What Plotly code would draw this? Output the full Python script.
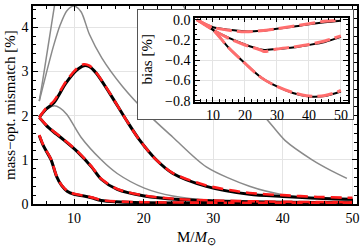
import plotly.graph_objects as go

# ---------------- main panel data ----------------
gray_a_x = [5, 5.5, 6, 6.5, 7, 7.5, 8, 10, 14, 18, 22, 26, 30, 33, 36, 37.4, 40.3, 44.2, 47, 49.2]
gray_a_y = [2.33, 2.8, 3.3, 3.8, 4.3, 4.8, 5.3, 6.2, 6.9, 6.6, 5.6, 4.4, 3.2, 2.6, 2.1, 1.96, 1.44, 1.0, 0.75, 0.58]

gray_b_x = [5, 6, 7, 8, 9, 10, 11, 12.2, 14, 16.9, 20.5, 24.2, 29, 35.2, 40.3, 45, 50]
gray_b_y = [2.33, 2.95, 3.55, 4.05, 4.38, 4.48, 4.35, 3.84, 3.3, 2.67, 2.05, 1.51, 0.84, 0.4, 0.2, 0.12, 0.08]

gray_c_x = [5, 6, 7.1, 8, 9, 11, 13.9, 16.2, 20.1, 24.2, 30, 40, 50]
gray_c_y = [1.96, 2.14, 2.22, 2.17, 2.02, 1.51, 1.0, 0.69, 0.36, 0.18, 0.08, 0.04, 0.03]

top_x = [5, 6, 7.1, 8.8, 10.3, 11.4, 12.2, 13.2, 15.1, 17.5, 19.4, 21.8, 24.2, 29, 35.2, 40, 45, 50]
top_black = [1.96, 2.15, 2.29, 2.73, 3.02, 3.13, 3.11, 2.96, 2.51, 1.9, 1.45, 1.0, 0.69, 0.4, 0.22, 0.17, 0.13, 0.11]
top_red = [1.96, 2.17, 2.33, 2.76, 3.05, 3.16, 3.13, 2.97, 2.52, 1.9, 1.45, 1.0, 0.7, 0.42, 0.25, 0.2, 0.16, 0.14]

mid_x = [5, 6, 7, 8.6, 10.5, 12.5, 13.9, 16.2, 20.1, 25, 30, 40, 50]
mid_black = [1.96, 1.78, 1.64, 1.44, 1.18, 0.84, 0.56, 0.33, 0.18, 0.1, 0.07, 0.04, 0.03]
mid_red = [1.96, 1.79, 1.65, 1.45, 1.19, 0.85, 0.57, 0.34, 0.19, 0.11, 0.08, 0.05, 0.04]

low_x = [5, 5.5, 6, 6.7, 7.5, 8.2, 9, 10, 11.4, 12.5, 13.9, 16, 20, 30, 40, 50]
low_black = [1.55, 1.35, 1.2, 1.0, 0.62, 0.42, 0.29, 0.22, 0.18, 0.14, 0.08, 0.05, 0.03, 0.02, 0.015, 0.01]
low_red = [1.56, 1.36, 1.21, 1.01, 0.63, 0.43, 0.3, 0.23, 0.19, 0.15, 0.09, 0.06, 0.04, 0.03, 0.03, 0.03]

main_xticks = [10, 20, 30, 40, 50]
main_yticks = [0, 1, 2, 3, 4]

# ---------------- inset data ----------------
inset_x = [5, 10, 15, 20, 25, 30, 35, 40, 45, 50]
bias1_black = [0.0, -0.075, -0.10, -0.115, -0.11, -0.09, -0.07, -0.045, -0.025, -0.01]
bias1_red = [0.0, -0.075, -0.105, -0.12, -0.11, -0.09, -0.065, -0.04, -0.015, -0.005]
bias2_x = [5, 10, 15, 20, 25, 26, 30, 35, 40, 45, 50]
bias2_black = [0.0, -0.10, -0.18, -0.245, -0.295, -0.30, -0.29, -0.275, -0.25, -0.22, -0.17]
bias2_red = [0.0, -0.10, -0.185, -0.25, -0.30, -0.315, -0.29, -0.27, -0.245, -0.21, -0.16]
bias3_black = [0.0, -0.10, -0.28, -0.43, -0.57, -0.66, -0.725, -0.76, -0.755, -0.71]
bias3_red = [0.0, -0.10, -0.28, -0.43, -0.57, -0.66, -0.72, -0.755, -0.75, -0.70]

inset_xticks = [10, 20, 30, 40, 50]
inset_yticks = [0.0, -0.2, -0.4, -0.6, -0.8]
inset_yticklabels = ["0.0", "\u22120.2", "\u22120.4", "\u22120.6", "\u22120.8"]

FONT = "Liberation Serif"
GRAY = "#8a8a8a"
RED = "#ff1a1a"
LRED = "#ff6e6e"

fig = go.Figure()

def add(x, y, color, width, dash=None, axes=("x", "y")):
    fig.add_trace(go.Scatter(
        x=x, y=y, mode="lines", xaxis=axes[0], yaxis=axes[1],
        line=dict(color=color, width=width, dash=dash, shape="spline", smoothing=0.8),
        hoverinfo="skip", showlegend=False))

# main panel
for gx, gy in [(gray_a_x, gray_a_y), (gray_b_x, gray_b_y), (gray_c_x, gray_c_y)]:
    add(gx, gy, GRAY, 1.5)
for xx, yb in [(top_x, top_black), (mid_x, mid_black), (low_x, low_black)]:
    add(xx, yb, "black", 3)
for xx, yr in [(top_x, top_red), (mid_x, mid_red), (low_x, low_red)]:
    add(xx, yr, RED, 2.6, dash="11px,6px")

# invisible trace for the inset background box subplot
fig.add_trace(go.Scatter(x=[0.5], y=[0.5], xaxis="x2", yaxis="y2", mode="markers",
                         marker=dict(opacity=0), hoverinfo="skip", showlegend=False))

# inset
for xx, yb in [(inset_x, bias1_black), (bias2_x, bias2_black), (inset_x, bias3_black)]:
    add(xx, yb, "black", 2, axes=("x3", "y3"))
for xx, yr in [(inset_x, bias1_red), (bias2_x, bias2_red), (inset_x, bias3_red)]:
    add(xx, yr, LRED, 3, dash="16px,5px", axes=("x3", "y3"))

axis_common = dict(showline=True, linecolor="black", linewidth=1.6, mirror="allticks",
                   ticks="inside", ticklen=5, tickcolor="black", tickwidth=1,
                   showgrid=True, gridcolor="#e4e4e4", gridwidth=1, zeroline=False,
                   tickfont=dict(family=FONT, size=14, color="black"))

fig.update_layout(
    width=361, height=248,
    margin=dict(l=33, r=4, t=1, b=44),
    paper_bgcolor="white", plot_bgcolor="white",
    xaxis=dict(range=[4.1, 50.65], tickvals=main_xticks, domain=[0, 1],
               minor=dict(dtick=2, tick0=0, ticklen=3, ticks="inside", tickcolor="black", showgrid=False),
               **axis_common),
    yaxis=dict(range=[0, 4.48], tickvals=main_yticks, domain=[0, 1],
               minor=dict(dtick=0.2, tick0=0, ticklen=3, ticks="inside", tickcolor="black", showgrid=False),
               **axis_common),
    xaxis2=dict(domain=[0.324, 0.988], anchor="y2", range=[0, 1], showline=True, mirror=True,
                linecolor="#555555", linewidth=1, showgrid=False, zeroline=False,
                showticklabels=False, ticks=""),
    yaxis2=dict(domain=[0.429, 0.980], anchor="x2", range=[0, 1], showline=True, mirror=True,
                linecolor="#555555", linewidth=1, showgrid=False, zeroline=False,
                showticklabels=False, ticks=""),
    xaxis3=dict(domain=[0.5, 0.972], anchor="y3", range=[4.4, 52.2], tickvals=inset_xticks,
                minor=dict(dtick=2, tick0=0, ticklen=2.5, ticks="inside", tickcolor="black", showgrid=False),
                **axis_common),
    yaxis3=dict(domain=[0.517, 0.941], anchor="x3", range=[-0.81, 0.02], tickvals=inset_yticks,
                ticktext=inset_yticklabels,
                minor=dict(dtick=0.05, tick0=0, ticklen=2.5, ticks="inside", tickcolor="black", showgrid=False),
                **axis_common),
    annotations=[
        dict(text="mass\u2212opt. mismatch [%]", xref="paper", yref="paper",
             x=-0.071, y=0.5, xanchor="center", yanchor="middle", textangle=-90, showarrow=False,
             font=dict(family=FONT, size=15, color="black")),
        dict(text="M/<i>M</i><sub>\u2299</sub>", xref="paper", yref="paper",
             x=0.506, y=-0.17, xanchor="center", yanchor="middle", showarrow=False,
             font=dict(family=FONT, size=15, color="black")),
        dict(text="bias [%]", xref="paper", yref="paper",
             x=0.352, y=0.73, xanchor="center", yanchor="middle", textangle=-90, showarrow=False,
             font=dict(family=FONT, size=15, color="black")),
    ],
)

fig.write_html("out.html", config={"displayModeBar": False},
               post_script="document.body.style.margin='0';document.body.style.overflow='hidden';")
